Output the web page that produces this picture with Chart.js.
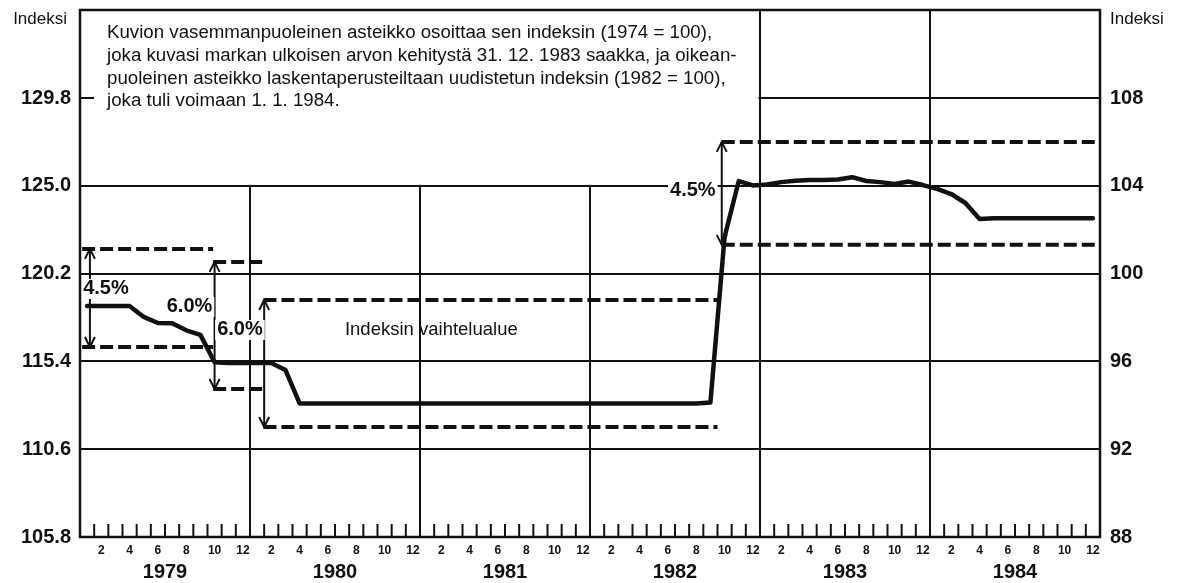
<!DOCTYPE html>
<html>
<head>
<meta charset="utf-8">
<script src="https://cdn.jsdelivr.net/npm/chart.js@4"></script>
<style>
  body { margin: 0; background: #fff; }
  #wrap { width: 1178px; height: 583px; }
</style>
</head>
<body>
<div id="wrap"><canvas id="index-chart"></canvas></div>
<script>
const years = ['1979', '1980', '1981', '1982', '1983', '1984']
const monthLabels = ['2', '4', '6', '8', '10', '12']
const leftTicks = [105.8, 110.6, 115.4, 120.2, 125.0, 129.8]
const rightTicks = [88, 92, 96, 100, 104, 108]

// monthly index (1974 = 100)
const index1979 = [118.43, 118.43, 118.43, 118.43, 117.83, 117.5, 117.48, 117.1, 116.85, 115.35, 115.31, 115.31]
const index1980 = [115.31, 115.31, 114.93, 113.1, 113.1, 113.1, 113.1, 113.1, 113.1, 113.1, 113.1, 113.1]
const index1981 = [113.1, 113.1, 113.1, 113.1, 113.1, 113.1, 113.1, 113.1, 113.1, 113.1, 113.1, 113.1]
const index1982 = [113.1, 113.1, 113.1, 113.1, 113.1, 113.1, 113.1, 113.1, 113.15, 122.2, 125.26, 125.02]
const index1983 = [125.07, 125.2, 125.28, 125.32, 125.32, 125.34, 125.47, 125.26, 125.2, 125.1, 125.23, 125.04]
const index1984 = [124.83, 124.55, 124.06, 123.19, 123.22, 123.22, 123.22, 123.22, 123.22, 123.22, 123.22, 123.22]

// fluctuation range, in months from Jan 1979
const bandFrom = [0.15, 9.4, 12.95, 45.3]
const bandTo = [9.4, 12.95, 45.0, 72]
const bandUpper = [121.55, 120.84, 118.76, 127.4]
const bandLower = [116.19, 113.89, 111.81, 121.77]
const bandWidth = ['4.5%', '6.0%', '6.0%', '4.5%']
const arrowAt = [0.7, 9.5, 13.0, 45.3]

const indexValues = [].concat(index1979, index1980, index1981, index1982, index1983, index1984)

const leftMin = 105.8
const leftMax = 134.61
// right scale (1982 = 100): 4 points on it match 4.8 on the left one
const toRight = v => 88 + (v - leftMin) / 1.2

const ink = '#111'

const noteText = [
    'Kuvion vasemmanpuoleinen asteikko osoittaa sen indeksin (1974 = 100),',
    'joka kuvasi markan ulkoisen arvon kehitystä 31. 12. 1983 saakka, ja oikean-',
    'puoleinen asteikko laskentaperusteiltaan uudistetun indeksin (1982 = 100),',
    'joka tuli voimaan 1. 1. 1984.'
]
// where the % labels sit, in data units (month, left index)
const pctSpots = [[1.83, 119.36], [7.73, 118.38], [11.29, 117.12], [43.26, 124.77]]

function label(ctx, text, px, py, font, bg) {
    ctx.font = font
    const w = ctx.measureText(text).width
    if (bg) {
        ctx.fillStyle = '#fff'
        ctx.fillRect(px - w / 2 - 2, py - 10, w + 4, 20)
    }
    ctx.fillStyle = ink
    ctx.textAlign = 'center'
    ctx.textBaseline = 'middle'
    ctx.fillText(text, px, py)
}

function arrowHead(ctx, px, py, dir) {
    ctx.beginPath()
    ctx.moveTo(px - 5, py + dir * 10)
    ctx.lineTo(px, py)
    ctx.lineTo(px + 5, py + dir * 10)
    ctx.stroke()
}

const decorations = {
    id: 'decorations',
    beforeDatasetsDraw(chart) {
        const { ctx, chartArea: a, scales: { x, y } } = chart
        ctx.save()
        // blank box for the explanation text
        ctx.fillStyle = '#fff'
        ctx.fillRect(a.left + 1.5, a.top + 0.5, x.getPixelForValue(48) - a.left - 3, y.getPixelForValue(125.0) - a.top - 1.5)
        ctx.strokeStyle = ink
        ctx.lineWidth = 2
        ctx.beginPath()
        ctx.moveTo(a.left, y.getPixelForValue(129.8))
        ctx.lineTo(a.left + 14, y.getPixelForValue(129.8))
        // month ticks
        for (let m = 1; m < 72; m++) {
            const px = x.getPixelForValue(m)
            ctx.moveTo(px, a.bottom)
            ctx.lineTo(px, a.bottom - 13)
        }
        ctx.stroke()
        ctx.restore()
    },
    afterDatasetsDraw(chart) {
        const { ctx, chartArea: a, scales: { x, y } } = chart
        ctx.save()
        ctx.strokeStyle = ink
        ctx.lineWidth = 2
        arrowAt.forEach((m, i) => {
            const px = x.getPixelForValue(m)
            const top = y.getPixelForValue(bandUpper[i])
            const bot = y.getPixelForValue(bandLower[i])
            ctx.beginPath()
            ctx.moveTo(px, top)
            ctx.lineTo(px, bot)
            ctx.stroke()
            arrowHead(ctx, px, top, 1)
            arrowHead(ctx, px, bot, -1)
        })
        bandWidth.forEach((t, i) => {
            label(ctx, t, x.getPixelForValue(pctSpots[i][0]), y.getPixelForValue(pctSpots[i][1]), 'bold 20px "Liberation Sans"', true)
        })
        label(ctx, 'Indeksin vaihtelualue', x.getPixelForValue(24.8), y.getPixelForValue(117.12), '18.5px "Liberation Sans"', false)

        ctx.font = '18.7px "Liberation Sans"'
        ctx.textAlign = 'left'
        ctx.textBaseline = 'middle'
        ctx.fillStyle = ink
        noteText.forEach((line, i) => {
            ctx.fillText(line, a.left + 27, a.top + 23 + i * 22.7)
        })
        ctx.restore()
    },
    afterDraw(chart) {
        const { ctx, chartArea: a } = chart
        ctx.save()
        ctx.strokeStyle = ink
        ctx.lineWidth = 2.5
        ctx.strokeRect(a.left, a.top, a.right - a.left, a.bottom - a.top)
        ctx.font = '17px "Liberation Sans"'
        ctx.fillStyle = ink
        ctx.textBaseline = 'middle'
        ctx.textAlign = 'right'
        ctx.fillText('Indeksi', a.left - 13, 19)
        ctx.textAlign = 'left'
        ctx.fillText('Indeksi', a.right + 10, 19)
        ctx.restore()
    }
}

function noPadding(axis) {
    axis.paddingLeft = 0
    axis.paddingRight = 0
    axis.paddingTop = 0
    axis.paddingBottom = 0
}

const datasets = []
bandFrom.forEach((from, i) => {
    [bandUpper[i], bandLower[i]].forEach(level => {
        datasets.push({
            data: [{ x: from, y: level }, { x: bandTo[i], y: level }],
            borderColor: ink,
            borderWidth: 4,
            borderDash: [13, 5],
            pointRadius: 0
        })
    })
})
datasets.push({
    data: indexValues.map((v, i) => ({ x: i + 0.5, y: v })),
    borderColor: ink,
    borderWidth: 4.5,
    borderJoinStyle: 'round',
    borderCapStyle: 'round',
    pointRadius: 0
})

const ctx = document.getElementById('index-chart').getContext('2d')
const myChart = new Chart(ctx, {
    type: 'line',
    data: { datasets: datasets },
    options: {
        responsive: true,
        maintainAspectRatio: false,
        animation: false,
        layout: { padding: { top: 10 } },
        plugins: { legend: { display: false }, tooltip: { enabled: false } },
        scales: {
            x: {
                type: 'linear', min: 0, max: 72, position: 'bottom', weight: 0,
                afterBuildTicks: axis => {
                    axis.ticks = years.flatMap((yr, i) => monthLabels.map(m => ({ value: i * 12 + Number(m) - 0.5 })))
                },
                ticks: {
                    callback: (v, i) => monthLabels[i % monthLabels.length],
                    font: { family: 'Liberation Sans', size: 12, weight: 'bold' },
                    color: ink, padding: 6, maxRotation: 0, autoSkip: false
                },
                grid: { display: false, drawTicks: false },
                border: { display: false },
                afterFit: axis => { axis.height = 22; noPadding(axis) }
            },
            xYear: {
                type: 'linear', min: 0, max: 72, position: 'bottom', weight: 1,
                afterBuildTicks: axis => {
                    axis.ticks = [{ value: 0 }].concat(years.flatMap((yr, i) => [{ value: i * 12 + 6 }, { value: i * 12 + 12 }]))
                },
                ticks: {
                    callback: v => (v % 12 === 6 ? years[(v - 6) / 12] : ''),
                    font: { family: 'Liberation Sans', size: 20, weight: 'bold' },
                    color: ink, padding: 1, maxRotation: 0, autoSkip: false
                },
                grid: {
                    color: c => (c.tick && c.tick.value % 12 === 0 ? ink : 'rgba(0,0,0,0)'),
                    lineWidth: 2, drawTicks: false
                },
                border: { display: false },
                afterFit: axis => { axis.height = 24; noPadding(axis) }
            },
            y: {
                type: 'linear', position: 'left', min: leftMin, max: leftMax,
                afterBuildTicks: axis => { axis.ticks = leftTicks.map(v => ({ value: v })) },
                ticks: {
                    callback: v => v.toFixed(1),
                    font: { family: 'Liberation Sans', size: 20, weight: 'bold' },
                    color: ink, padding: 9
                },
                grid: { color: ink, lineWidth: 2, drawTicks: false },
                border: { display: false },
                afterFit: axis => { axis.width = 80; noPadding(axis) }
            },
            y2: {
                type: 'linear', position: 'right', min: toRight(leftMin), max: toRight(leftMax),
                afterBuildTicks: axis => { axis.ticks = rightTicks.map(v => ({ value: v })) },
                ticks: {
                    font: { family: 'Liberation Sans', size: 20, weight: 'bold' },
                    color: ink, padding: 10
                },
                grid: { display: false, drawTicks: false },
                border: { display: false },
                afterFit: axis => { axis.width = 78; noPadding(axis) }
            }
        }
    },
    plugins: [decorations]
})
</script>
</body>
</html>
